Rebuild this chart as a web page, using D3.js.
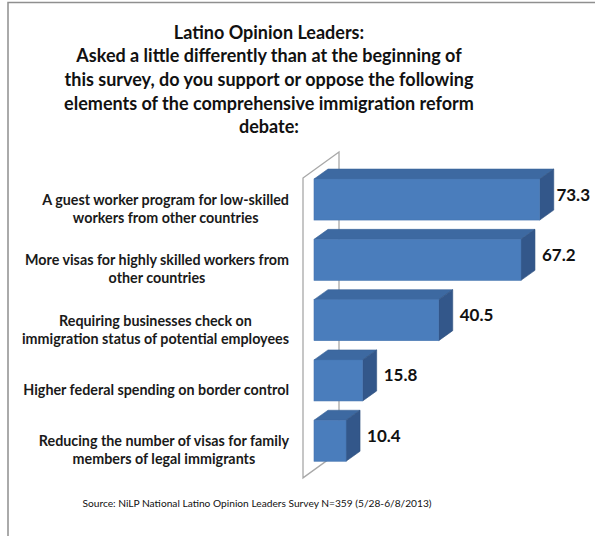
<!DOCTYPE html>
<html>
<head>
<meta charset="utf-8">
<script src="https://cdn.jsdelivr.net/npm/d3@7"></script>
<style>
  html, body { margin: 0; padding: 0; background: #fff; }
  svg { display: block; }
</style>
</head>
<body>
<svg id="chart" width="595" height="536"></svg>
<script>
// Survey items (top to bottom) and share of support
const categories = [
  ["A guest worker program for low-skilled", "workers from other countries"],
  ["More visas for highly skilled workers from", "other countries"],
  ["Requiring businesses check on", "immigration status of potential employees"],
  ["Higher federal spending on border control"],
  ["Reducing the number of visas for family", "members of legal immigrants"]
];
const values = [73.3, 67.2, 40.5, 15.8, 10.4];

const titleLines = [
  "Latino Opinion Leaders:",
  "Asked a little differently than at the beginning of",
  "this survey, do you support or oppose the following",
  "elements of the comprehensive immigration reform",
  "debate:"
];
const sourceNote = "Source: NiLP National Latino Opinion Leaders Survey N=359 (5/28-6/8/2013)";

const svg = d3.select("#chart");
const font = "Lato, 'Open Sans', sans-serif";

// Outer frame (top and left edges)
svg.append("path")
  .attr("d", "M8,536 L8,2.5 L595,2.5")
  .attr("fill", "none")
  .attr("stroke", "#8f8f8f")
  .attr("stroke-width", 1.5);

// Title
svg.append("g").selectAll("text")
  .data(titleLines)
  .join("text")
  .attr("x", 269)
  .attr("y", (d, i) => 38.5 + i * 23.7)
  .attr("text-anchor", "middle")
  .attr("font-family", font)
  .attr("font-weight", "bold")
  .attr("font-size", 18)
  .attr("fill", "#111")
  .text(d => d);

// Scales
const idx = d3.range(values.length);
const x = d3.scaleLinear().domain([0, 80]).range([314, 560.4]);
const y = d3.scaleBand().domain(idx).range([169.4, 470.9])
  .paddingInner(0.32).paddingOuter(0.16);

const depthX = 14, depthY = 10;

// Side wall of the 3D plot
const wallFront = 303, wallBack = 339;
const wallTop = y.range()[0] + 8.6, wallBottom = y.range()[1] + 7;
const wallRise = 26;
svg.append("path")
  .attr("d", `M${wallFront},${wallTop} L${wallBack},${wallTop - wallRise} L${wallBack},${wallBottom - wallRise} L${wallFront},${wallBottom} Z`)
  .attr("fill", "#fff")
  .attr("stroke", "#a8a8a8")
  .attr("stroke-width", 1.3);

// Bars
const bars = svg.append("g").selectAll("g")
  .data(idx)
  .join("g");

bars.append("path") // top face
  .attr("d", i => {
    const x0 = x(0), x1 = x(values[i]), yt = y(i);
    return `M${x0},${yt} L${x0 + depthX},${yt - depthY} L${x1 + depthX},${yt - depthY} L${x1},${yt} Z`;
  })
  .attr("fill", "#3d69a1")
  .attr("stroke", "#3a649a")
  .attr("stroke-width", 0.6);

bars.append("path") // side face
  .attr("d", i => {
    const x1 = x(values[i]), yt = y(i), yb = y(i) + y.bandwidth();
    return `M${x1},${yt} L${x1 + depthX},${yt - depthY} L${x1 + depthX},${yb - depthY} L${x1},${yb} Z`;
  })
  .attr("fill", "#33578a")
  .attr("stroke", "#30537f")
  .attr("stroke-width", 0.6);

bars.append("rect") // front face
  .attr("x", x(0))
  .attr("y", i => y(i))
  .attr("width", i => x(values[i]) - x(0))
  .attr("height", y.bandwidth())
  .attr("fill", "#4a7dbc")
  .attr("stroke", "#4574b0")
  .attr("stroke-width", 0.6);

// Value labels
const valueLabels = svg.append("g").selectAll("text")
  .data(idx)
  .join("text")
  .attr("y", i => y(i) + y.bandwidth() / 2 + 1)
  .attr("font-family", font)
  .attr("font-weight", "bold")
  .attr("font-size", 17)
  .attr("fill", "#111")
  .text(i => values[i].toFixed(1));
valueLabels.attr("x", function (i) {
  const w = this.getComputedTextLength();
  return Math.min(x(values[i]) + depthX + 7, 590 - w);
});

// Category labels: each block is centred on itself and right-aligned to the wall
const labelRight = 289;
const catGroups = svg.append("g").selectAll("text")
  .data(idx)
  .join("text")
  .attr("text-anchor", "middle")
  .attr("font-family", font)
  .attr("font-weight", "bold")
  .attr("font-size", 14.3)
  .attr("fill", "#1a1a1a");
catGroups.each(function (i) {
  const lines = categories[i];
  const c = y(i) + y.bandwidth() / 2 + 10;
  const first = c + 4.5 - (lines.length - 1) * 9;
  const spans = d3.select(this).selectAll("tspan")
    .data(lines)
    .join("tspan")
    .attr("y", (d, k) => first + k * 18)
    .text(d => d);
  let maxW = 0;
  spans.each(function () { maxW = Math.max(maxW, this.getComputedTextLength()); });
  spans.attr("x", labelRight - maxW / 2);
});

// Source note
svg.append("text")
  .attr("x", 257)
  .attr("y", 507)
  .attr("text-anchor", "middle")
  .attr("font-family", font)
  .attr("font-size", 10.2)
  .attr("fill", "#111")
  .text(sourceNote);
</script>
</body>
</html>
